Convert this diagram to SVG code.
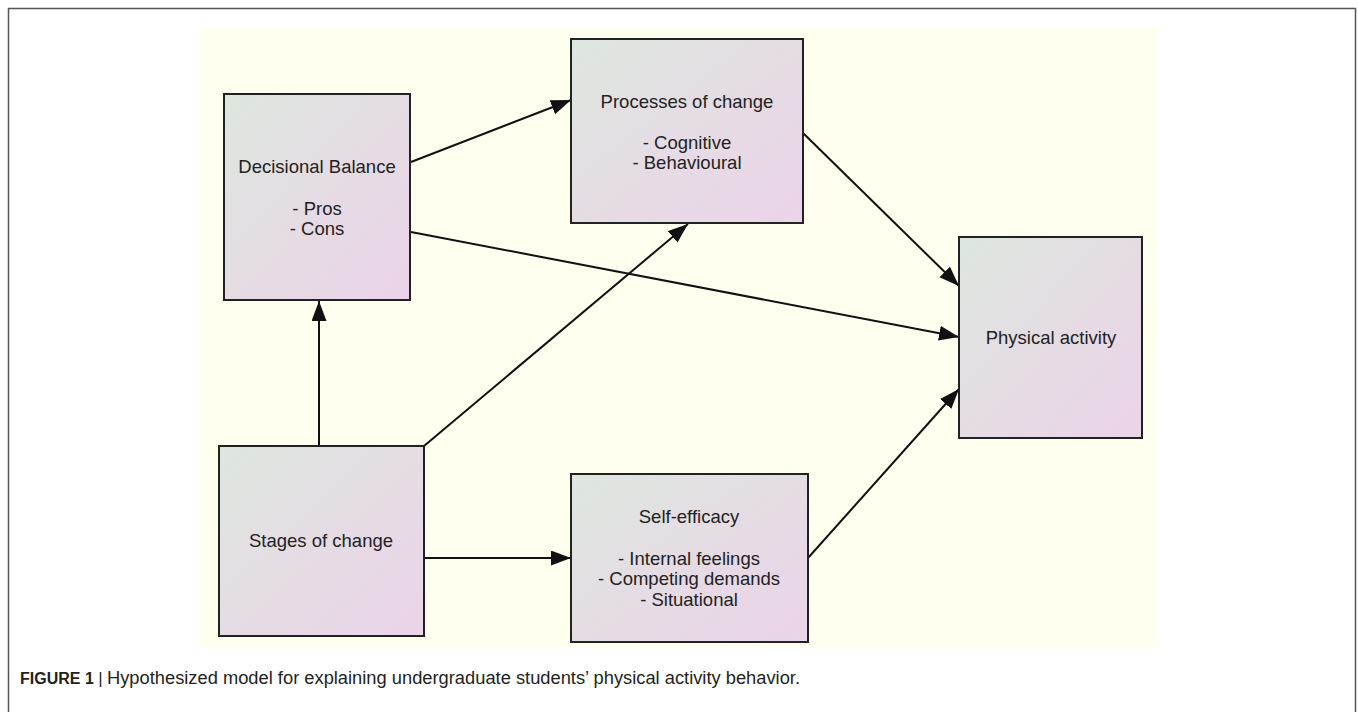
<svg xmlns="http://www.w3.org/2000/svg" width="1358" height="712" viewBox="0 0 1358 712">
<defs>
<linearGradient id="g" x1="0" y1="0" x2="1" y2="1">
<stop offset="0" stop-color="#dde7df"/>
<stop offset="0.55" stop-color="#e6dbe4"/>
<stop offset="1" stop-color="#ebd4e8"/>
</linearGradient>
<marker id="ah" markerUnits="userSpaceOnUse" markerWidth="22" markerHeight="16" refX="20" refY="7.5" orient="auto">
<path d="M0,0 L20,7.5 L0,15 Z" fill="#111"/>
</marker>
</defs>
<style>
.box{fill:url(#g);stroke:#222;stroke-width:2}
.t{font-family:"Liberation Sans",Arial,sans-serif;font-size:18.5px;fill:#222;text-anchor:middle}
.c{stroke:#111;stroke-width:2;fill:none;marker-end:url(#ah)}
.cap{font-family:"Liberation Sans",Arial,sans-serif;font-size:16px;fill:#231f20}
</style>
<rect x="0" y="0" width="1358" height="712" fill="#fff"/>
<path d="M8.5,712 V8.5 H1355.5 V712" fill="none" stroke="#555" stroke-width="1.5"/>
<rect x="200" y="27" width="958" height="620" fill="#fffff0"/>
<g id="connectors">
<line class="c" x1="411" y1="162" x2="571" y2="100"/>
<line class="c" x1="411" y1="232" x2="959" y2="337"/>
<line class="c" x1="803" y1="133" x2="959" y2="286"/>
<line class="c" x1="319" y1="446" x2="319" y2="301"/>
<line class="c" x1="424" y1="446" x2="688" y2="224"/>
<line class="c" x1="424" y1="558" x2="571" y2="558"/>
<line class="c" x1="808" y1="558" x2="959" y2="389"/>
</g>
<g id="decisional">
<rect class="box" x="224" y="94" width="186" height="206"/>
<text class="t" x="317" y="173">Decisional Balance</text>
<text class="t" x="317" y="215">- Pros</text>
<text class="t" x="317" y="235">- Cons</text>
</g>
<g id="processes">
<rect class="box" x="571" y="39" width="232" height="184"/>
<text class="t" x="687" y="108">Processes of change</text>
<text class="t" x="687" y="149">- Cognitive</text>
<text class="t" x="687" y="169">- Behavioural</text>
</g>
<g id="physical">
<rect class="box" x="959" y="237" width="183" height="201"/>
<text class="t" x="1051" y="344">Physical activity</text>
</g>
<g id="stages">
<rect class="box" x="219" y="446" width="205" height="190"/>
<text class="t" x="321" y="547">Stages of change</text>
</g>
<g id="selfefficacy">
<rect class="box" x="571" y="474" width="237" height="168"/>
<text class="t" x="689" y="523">Self-efficacy</text>
<text class="t" x="689" y="565">- Internal feelings</text>
<text class="t" x="689" y="585">- Competing demands</text>
<text class="t" x="689" y="606">- Situational</text>
</g>
<text class="cap" x="20" y="684"><tspan font-weight="bold">FIGURE 1</tspan> <tspan font-size="17">|</tspan> <tspan x="107" font-size="17.5" textLength="693" lengthAdjust="spacingAndGlyphs">Hypothesized model for explaining undergraduate students’ physical activity behavior.</tspan></text>
</svg>
